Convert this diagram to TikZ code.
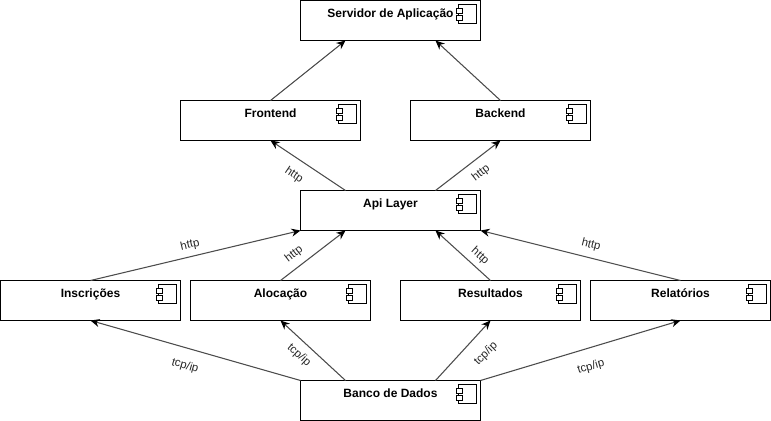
\documentclass[tikz,border=0pt]{standalone}
\usepackage{fontspec}
\setmainfont{Liberation Sans}
\usetikzlibrary{arrows.meta}
\tikzset{
  comp box/.style={
    rectangle,draw=black,fill=white,line width=0.75pt,outer sep=0pt,inner sep=0pt,
    minimum width=135pt,minimum height=30pt,
    text height=12.9pt,text depth=17.1pt,font=\bfseries\fontsize{9}{11}\selectfont
  },
  comp icon/.style={draw=black,fill=white,line width=0.75pt},
  dep edge/.style={black!70,line width=0.8pt,-{Stealth[length=6.8pt,width=6pt,black]}},
  dep label/.style={inner sep=0pt,font=\fontsize{8.6}{10}\selectfont,text=black!85}
}
\newcommand{\compat}[3]{%
  \node[comp box] (#1) at (#2) {#3};
  \begin{scope}[shift={(#1.north east)}]
    \draw[comp icon] (-22,4) rectangle (-4,23);
    \draw[comp icon] (-24.5,8) rectangle (-18,13);
    \draw[comp icon] (-24.5,15) rectangle (-18,20);
  \end{scope}%
}

\begin{document}
\begin{tikzpicture}[x=0.75pt,y=-0.75pt]
  \useasboundingbox (0,0) rectangle (771,421);
  \compat{srv}{390.5,20.5}{Servidor de Aplicação}
  \compat{front}{270.5,120.5}{Frontend}
  \compat{back}{500.5,120.5}{Backend}
  \compat{api}{390.5,210.5}{Api Layer}
  \compat{insc}{90.5,300.5}{Inscrições}
  \compat{aloc}{280.5,300.5}{Alocação}
  \compat{res}{490.5,300.5}{Resultados}
  \compat{rel}{680.5,300.5}{Relatórios}
  \compat{db}{390.5,400.5}{Banco de Dados}
  \draw[dep edge] (front.north)--([xshift=-33.75pt]srv.south);
  \draw[dep edge] (back.north)--([xshift=33.75pt]srv.south);
  \draw[dep edge] ([xshift=-33.75pt]api.north)--(front.south);
  \draw[dep edge] ([xshift=33.75pt]api.north)--(back.south);
  \draw[dep edge] (insc.north)--(api.south west);
  \draw[dep edge] (aloc.north)--([xshift=-33.75pt]api.south);
  \draw[dep edge] (res.north)--([xshift=33.75pt]api.south);
  \draw[dep edge] (rel.north)--(api.south east);
  \draw[dep edge] (db.north west)--(insc.south);
  \draw[dep edge] ([xshift=-33.75pt]db.north)--(aloc.south);
  \draw[dep edge] ([xshift=33.75pt]db.north)--(res.south);
  \draw[dep edge] (db.north east)--(rel.south);
  \node[dep label,rotate=-34] (l1) at (294,175) {http};
  \node[dep label,rotate=38] (l2) at (481,173) {http};
  \node[dep label,rotate=13] (l3) at (190,245) {http};
  \node[dep label,rotate=38] (l4) at (294,254) {http};
  \node[dep label,rotate=-42] (l5) at (480,256) {http};
  \node[dep label,rotate=-14] (l6) at (591,245) {http};
  \node[dep label,rotate=-16] (l7) at (185,366) {tcp/ip};
  \node[dep label,rotate=-42] (l8) at (299,355) {tcp/ip};
  \node[dep label,rotate=45] (l9) at (486,354) {tcp/ip};
  \node[dep label,rotate=16] (l10) at (591,367) {tcp/ip};
\end{tikzpicture}
\end{document}
